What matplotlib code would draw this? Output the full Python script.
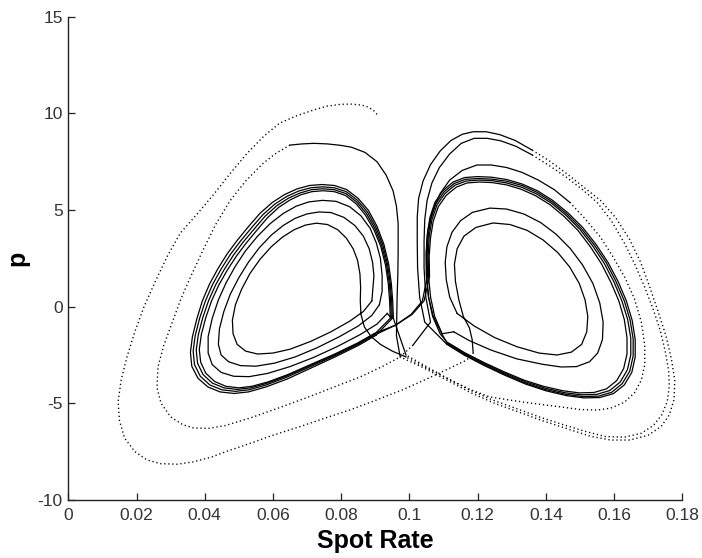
import matplotlib
matplotlib.use("Agg")
import matplotlib.pyplot as plt

plt.rcParams['font.family'] = ['Liberation Sans', 'DejaVu Sans']

# ---------------- data ----------------
x_ticks = [0, 0.02, 0.04, 0.06, 0.08, 0.1, 0.12, 0.14, 0.16, 0.18]
x_tick_labels = ['0', '0.02', '0.04', '0.06', '0.08', '0.1', '0.12', '0.14', '0.16', '0.18']
y_ticks = [-10, -5, 0, 5, 10, 15]
y_tick_labels = ['-10', '-5', '0', '5', '10', '15']

# left outer transient loop (dotted)
l1_x = [0.0905, 0.0895, 0.0880, 0.0860, 0.0830, 0.0800, 0.0760, 0.0720, 0.0670, 0.0620, 0.0575,
        0.0525, 0.0475, 0.0428, 0.0378, 0.0328, 0.0290, 0.0255, 0.0222, 0.0195, 0.0172, 0.0155,
        0.0146, 0.0150, 0.0165, 0.0195, 0.0231, 0.0270, 0.0320, 0.0366, 0.0420, 0.0470, 0.0533,
        0.0600, 0.0680, 0.0750, 0.0826, 0.0900, 0.0980, 0.1050, 0.1110, 0.1168, 0.1187]
l1_y = [9.95, 10.15, 10.32, 10.43, 10.48, 10.47, 10.38, 10.18, 9.88, 9.50, 8.85,
        7.95, 6.90, 5.85, 4.80, 3.80, 2.60, 1.30, 0.00, -1.30, -2.60, -3.80,
        -4.90, -5.90, -6.80, -7.50, -7.93, -8.12, -8.15, -8.03, -7.78, -7.45, -7.07,
        -6.65, -6.20, -5.78, -5.34, -4.85, -4.30, -3.75, -3.25, -2.76, -2.40]

# right innermost loop
r6_x = [0.1184, 0.1176, 0.1158, 0.1145, 0.1135, 0.1132, 0.1140, 0.1160, 0.1195, 0.1245, 0.1295,
        0.1345, 0.1392, 0.1435, 0.1470, 0.1498, 0.1515, 0.1523, 0.1520, 0.1505, 0.1475, 0.1433,
        0.1380, 0.1315, 0.1250, 0.1190, 0.1140]
r6_y = [-1.70, -1.10, -0.50, 0.35, 1.30, 2.20, 3.00, 3.65, 4.10, 4.33, 4.25,
        3.95, 3.45, 2.80, 2.05, 1.20, 0.35, -0.50, -1.30, -1.95, -2.35, -2.50,
        -2.40, -2.07, -1.60, -1.00, -0.35]

r5_x = [0.1118, 0.1108, 0.1105, 0.1110, 0.1125, 0.1150, 0.1185, 0.1236, 0.1285, 0.1335, 0.1385,
        0.1430, 0.1472, 0.1508, 0.1538, 0.1558, 0.1568, 0.1566, 0.1552, 0.1528, 0.1490, 0.1445,
        0.1390, 0.1315, 0.1240, 0.1175, 0.1130]
r5_y = [0.50, 1.40, 2.30, 3.10, 3.85, 4.45, 4.88, 5.10, 5.05, 4.80, 4.35,
        3.75, 3.00, 2.15, 1.20, 0.20, -0.80, -1.70, -2.40, -2.85, -3.10, -3.12,
        -2.98, -2.70, -2.25, -1.75, -1.30]

rb1_x = [0.1096, 0.1074, 0.1062, 0.1056, 0.1055, 0.1058, 0.1066, 0.1081, 0.1104, 0.1133, 0.1166,
         0.1203, 0.1242, 0.1285, 0.1329, 0.1372, 0.1416, 0.1459, 0.1500, 0.1538, 0.1571, 0.1600,
         0.1623, 0.1640, 0.1649, 0.1649, 0.1639, 0.1618, 0.1587, 0.1549, 0.1505, 0.1455, 0.1397,
         0.1339, 0.1281, 0.1222, 0.1163, 0.1114]
rb1_y = [-1.40, -0.50, 0.50, 1.58, 2.65, 3.63, 4.50, 5.27, 5.85, 6.28, 6.50,
         6.55, 6.52, 6.40, 6.18, 5.84, 5.36, 4.73, 4.00, 3.13, 2.25, 1.27,
         0.30, -0.67, -1.63, -2.50, -3.27, -3.90, -4.34, -4.54, -4.56, -4.45, -4.21,
         -3.88, -3.45, -2.97, -2.44, -1.91]

rb2_x = [0.1090, 0.1068, 0.1056, 0.1050, 0.1049, 0.1052, 0.1060, 0.1075, 0.1098, 0.1128, 0.1162,
         0.1200, 0.1240, 0.1285, 0.1330, 0.1375, 0.1420, 0.1465, 0.1508, 0.1548, 0.1582, 0.1612,
         0.1636, 0.1653, 0.1662, 0.1662, 0.1652, 0.1630, 0.1598, 0.1558, 0.1512, 0.1460, 0.1400,
         0.1340, 0.1280, 0.1220, 0.1160, 0.1110]
rb2_y = [-1.40, -0.50, 0.50, 1.60, 2.70, 3.70, 4.60, 5.40, 6.00, 6.45, 6.68,
         6.73, 6.70, 6.58, 6.35, 6.00, 5.50, 4.85, 4.10, 3.20, 2.30, 1.30,
         0.30, -0.70, -1.70, -2.60, -3.40, -4.05, -4.50, -4.70, -4.72, -4.60, -4.35,
         -4.00, -3.55, -3.05, -2.50, -1.95]

# right outer loop 1 (top solid, lower part dotted)
r1_top_x = [0.1045, 0.1030, 0.1024, 0.1023, 0.1023, 0.1027, 0.1040, 0.1062, 0.1090, 0.1122,
            0.1155, 0.1187, 0.1225, 0.1265, 0.1310, 0.1360]
r1_top_y = [-0.80, 0.50, 2.00, 3.40, 4.65, 5.60, 6.50, 7.35, 8.05, 8.60,
            8.92, 9.05, 9.05, 8.90, 8.60, 8.10]
r1_low_x = [0.1410, 0.1460, 0.1510, 0.1560, 0.1605, 0.1645, 0.1678, 0.1705, 0.1730, 0.1752,
            0.1768, 0.1778, 0.1776, 0.1762, 0.1738, 0.1700, 0.1646, 0.1590, 0.1530, 0.1460,
            0.1390, 0.1320, 0.1250, 0.1180, 0.1110, 0.1040, 0.0973]
r1_low_y = [7.55, 6.90, 6.20, 5.50, 4.60, 3.50, 2.30, 1.00, -0.30, -1.50,
            -2.70, -3.80, -4.80, -5.60, -6.20, -6.65, -6.90, -6.90, -6.70, -6.30,
            -5.90, -5.45, -5.00, -4.45, -3.80, -3.15, -2.60]

# left outer loop 2 (riser and top solid, outer part dotted)
l2_top_x = [0.0962, 0.0963, 0.0964, 0.0966, 0.0967, 0.0967, 0.0962, 0.0952, 0.0932, 0.0905,
            0.0870, 0.0830, 0.0797, 0.0760, 0.0720, 0.0685, 0.0650]
l2_top_y = [-1.50, -0.50, 0.50, 1.60, 2.80, 4.30, 5.20, 6.00, 6.80, 7.50,
            7.98, 8.25, 8.35, 8.42, 8.45, 8.42, 8.36]
l2_low_x = [0.0610, 0.0570, 0.0520, 0.0475, 0.0432, 0.0395, 0.0360, 0.0330, 0.0303, 0.0280,
            0.0263, 0.0260, 0.0272, 0.0300, 0.0335, 0.0366, 0.0410, 0.0460, 0.0533, 0.0615,
            0.0700, 0.0780, 0.0855, 0.0920, 0.0973, 0.1010]
l2_low_y = [7.95, 7.40, 6.50, 5.50, 4.25, 2.93, 1.60, 0.40, -0.90, -2.00,
            -3.10, -4.20, -5.00, -5.70, -6.10, -6.27, -6.30, -6.15, -5.76, -5.25,
            -4.70, -4.15, -3.64, -3.10, -2.60, -2.00]

# right outer loop 2
r2_top_x = [0.1062, 0.1048, 0.1043, 0.1043, 0.1045, 0.1052, 0.1066, 0.1088, 0.1118, 0.1152,
            0.1190, 0.1228, 0.1268, 0.1312, 0.1360]
r2_top_y = [-0.80, 0.50, 2.00, 3.40, 4.50, 5.50, 6.40, 7.20, 7.90, 8.45,
            8.71, 8.71, 8.58, 8.30, 7.85]
r2_low_x = [0.1410, 0.1460, 0.1508, 0.1550, 0.1592, 0.1630, 0.1662, 0.1690, 0.1714, 0.1735,
            0.1750, 0.1760, 0.1762, 0.1756, 0.1740, 0.1715, 0.1680, 0.1630, 0.1575, 0.1515,
            0.1450, 0.1380, 0.1310, 0.1240, 0.1170, 0.1100, 0.1040, 0.0990]
r2_low_y = [7.30, 6.70, 6.05, 5.40, 4.45, 3.30, 2.15, 1.00, -0.10, -1.20,
            -2.30, -3.30, -4.10, -4.90, -5.60, -6.15, -6.55, -6.75, -6.72, -6.45,
            -6.10, -5.70, -5.25, -4.80, -4.25, -3.60, -3.00, -2.50]

# left band loops
lb1_x = [0.0953, 0.0951, 0.0947, 0.0939, 0.0925, 0.0905, 0.0880, 0.0850, 0.0816, 0.0780, 0.0744,
         0.0707, 0.0670, 0.0634, 0.0598, 0.0562, 0.0529, 0.0496, 0.0466, 0.0439, 0.0414, 0.0393,
         0.0377, 0.0364, 0.0358, 0.0362, 0.0380, 0.0409, 0.0445, 0.0486, 0.0528, 0.0580, 0.0642,
         0.0712, 0.0782, 0.0852, 0.0902]
lb1_y = [-0.60, 0.30, 1.20, 2.22, 3.24, 4.16, 4.98, 5.60, 6.06, 6.27, 6.32,
         6.27, 6.09, 5.80, 5.39, 4.83, 4.16, 3.45, 2.74, 1.98, 1.17, 0.30,
         -0.62, -1.54, -2.36, -3.08, -3.70, -4.15, -4.41, -4.49, -4.41, -4.15, -3.74,
         -3.17, -2.60, -1.99, -1.48]

lb2_x = [0.0950, 0.0948, 0.0944, 0.0936, 0.0922, 0.0902, 0.0877, 0.0848, 0.0815, 0.0780, 0.0745,
         0.0710, 0.0675, 0.0640, 0.0605, 0.0570, 0.0538, 0.0505, 0.0475, 0.0448, 0.0423, 0.0402,
         0.0385, 0.0372, 0.0366, 0.0370, 0.0387, 0.0415, 0.0450, 0.0490, 0.0530, 0.0580, 0.0640,
         0.0710, 0.0780, 0.0850, 0.0900]
lb2_y = [-0.60, 0.30, 1.20, 2.20, 3.20, 4.10, 4.90, 5.50, 5.95, 6.15, 6.20,
         6.15, 5.98, 5.70, 5.30, 4.75, 4.10, 3.40, 2.70, 1.95, 1.15, 0.30,
         -0.60, -1.50, -2.30, -3.00, -3.60, -4.05, -4.30, -4.38, -4.30, -4.05, -3.65,
         -3.10, -2.55, -1.95, -1.45]

lb3_x = [0.0947, 0.0945, 0.0941, 0.0933, 0.0919, 0.0899, 0.0874, 0.0846, 0.0814, 0.0780, 0.0746,
         0.0712, 0.0679, 0.0645, 0.0611, 0.0577, 0.0546, 0.0513, 0.0484, 0.0457, 0.0432, 0.0411,
         0.0394, 0.0381, 0.0375, 0.0379, 0.0395, 0.0422, 0.0456, 0.0495, 0.0534, 0.0583, 0.0642,
         0.0711, 0.0780, 0.0849, 0.0898]
lb3_y = [-0.60, 0.30, 1.20, 2.18, 3.16, 4.04, 4.82, 5.41, 5.85, 6.05, 6.10,
         6.05, 5.88, 5.61, 5.22, 4.68, 4.04, 3.35, 2.66, 1.92, 1.13, 0.30,
         -0.58, -1.47, -2.25, -2.93, -3.51, -3.95, -4.20, -4.28, -4.20, -3.96, -3.57,
         -3.03, -2.50, -1.91, -1.42]

lb4_x = [0.0944, 0.0942, 0.0938, 0.0930, 0.0916, 0.0896, 0.0871, 0.0844, 0.0813, 0.0780, 0.0747,
         0.0714, 0.0682, 0.0650, 0.0617, 0.0584, 0.0554, 0.0522, 0.0493, 0.0466, 0.0441, 0.0420,
         0.0403, 0.0390, 0.0384, 0.0388, 0.0403, 0.0429, 0.0462, 0.0500, 0.0538, 0.0586, 0.0644,
         0.0712, 0.0780, 0.0848, 0.0896]
lb4_y = [-0.60, 0.30, 1.20, 2.15, 3.12, 3.98, 4.74, 5.32, 5.75, 5.95, 6.00,
         5.95, 5.79, 5.52, 5.14, 4.60, 3.98, 3.30, 2.62, 1.89, 1.11, 0.30,
         -0.57, -1.44, -2.21, -2.87, -3.44, -3.87, -4.12, -4.20, -4.12, -3.89, -3.51,
         -2.98, -2.46, -1.88, -1.40]

# right band loops entered from the left lobe
rb3_x = [0.0960, 0.1005, 0.1038, 0.1053, 0.1052, 0.1055, 0.1063, 0.1078, 0.1101, 0.1131, 0.1164,
         0.1202, 0.1241, 0.1285, 0.1330, 0.1374, 0.1418, 0.1462, 0.1504, 0.1543, 0.1577, 0.1606,
         0.1630, 0.1647, 0.1656, 0.1656, 0.1646, 0.1624, 0.1593, 0.1554, 0.1509, 0.1458, 0.1399,
         0.1340, 0.1281, 0.1221, 0.1162, 0.1112]
rb3_y = [-0.95, -0.40, 0.30, 1.59, 2.68, 3.67, 4.55, 5.34, 5.93, 6.37, 6.59,
         6.63, 6.60, 6.49, 6.27, 5.92, 5.43, 4.79, 4.05, 3.17, 2.28, 1.29,
         0.30, -0.69, -1.67, -2.55, -3.34, -3.98, -4.43, -4.63, -4.65, -4.53, -4.29,
         -3.95, -3.51, -3.02, -2.48, -1.94]

rb4_x = [0.0960, 0.1008, 0.1043, 0.1059, 0.1058, 0.1062, 0.1070, 0.1085, 0.1108, 0.1137, 0.1169,
         0.1205, 0.1243, 0.1285, 0.1327, 0.1369, 0.1412, 0.1454, 0.1494, 0.1531, 0.1563, 0.1591,
         0.1614, 0.1630, 0.1638, 0.1638, 0.1628, 0.1608, 0.1578, 0.1541, 0.1498, 0.1450, 0.1393,
         0.1336, 0.1279, 0.1221, 0.1163, 0.1115]
rb4_y = [-0.95, -0.40, 0.30, 1.56, 2.62, 3.58, 4.43, 5.18, 5.76, 6.18, 6.40,
         6.45, 6.42, 6.30, 6.08, 5.75, 5.28, 4.66, 3.95, 3.09, 2.22, 1.25,
         0.30, -0.66, -1.60, -2.45, -3.21, -3.82, -4.25, -4.44, -4.46, -4.35, -4.12,
         -3.80, -3.38, -2.91, -2.39, -1.88]

# right loop 3 (top solid, lower part dotted)
r3_top_x = [0.1095, 0.1070, 0.1056, 0.1050, 0.1050, 0.1055, 0.1068, 0.1090, 0.1118, 0.1155,
            0.1198, 0.1240, 0.1285, 0.1330, 0.1378, 0.1425, 0.1470]
r3_top_y = [-1.40, -0.50, 0.50, 1.70, 2.90, 4.00, 5.00, 5.85, 6.55, 7.05,
            7.33, 7.33, 7.20, 6.95, 6.55, 6.05, 5.40]
r3_low_x = [0.1515, 0.1560, 0.1598, 0.1632, 0.1660, 0.1680, 0.1690, 0.1690, 0.1680, 0.1660,
            0.1630, 0.1590, 0.1550, 0.1500, 0.1450, 0.1395, 0.1340, 0.1290, 0.1236, 0.1180,
            0.1120, 0.1060, 0.1020, 0.0990]
r3_low_y = [4.55, 3.60, 2.55, 1.50, 0.40, -0.80, -2.00, -3.00, -3.80, -4.45,
            -4.95, -5.25, -5.35, -5.32, -5.20, -5.08, -4.95, -4.82, -4.67, -4.30,
            -3.80, -3.25, -2.90, -2.60]

# left inner loops
l43_x = [0.0950, 0.0915, 0.0888, 0.0868, 0.0858, 0.0856, 0.0857, 0.0855, 0.0848, 0.0835, 0.0815,
         0.0790, 0.0760, 0.0727, 0.0695, 0.0662, 0.0628, 0.0595, 0.0562, 0.0532, 0.0508, 0.0490,
         0.0481, 0.0483, 0.0495, 0.0520, 0.0555, 0.0600, 0.0650, 0.0710, 0.0770, 0.0825, 0.0865,
         0.0890]
l43_y = [-2.30, -1.95, -1.55, -1.05, -0.40, 0.30, 1.00, 1.70, 2.40, 3.00, 3.55,
         3.98, 4.25, 4.32, 4.22, 3.98, 3.60, 3.10, 2.45, 1.70, 0.90, 0.10,
         -0.70, -1.40, -1.95, -2.30, -2.45, -2.40, -2.20, -1.80, -1.30, -0.75, -0.25,
         0.30]

l49_x = [0.0896, 0.0892, 0.0882, 0.0865, 0.0840, 0.0808, 0.0770, 0.0735, 0.0700, 0.0665, 0.0630,
         0.0595, 0.0560, 0.0528, 0.0500, 0.0475, 0.0456, 0.0443, 0.0440, 0.0448, 0.0470, 0.0505,
         0.0550, 0.0605, 0.0665, 0.0730, 0.0795, 0.0850, 0.0890, 0.0912]
l49_y = [1.60, 2.30, 3.00, 3.65, 4.20, 4.62, 4.87, 4.90, 4.80, 4.57, 4.20,
         3.70, 3.05, 2.30, 1.50, 0.65, -0.25, -1.15, -1.95, -2.50, -2.85, -3.05,
         -3.08, -2.92, -2.60, -2.12, -1.55, -1.00, -0.45, 0.10]

l55_x = [0.0920, 0.0920, 0.0915, 0.0903, 0.0885, 0.0858, 0.0825, 0.0785, 0.0745, 0.0705, 0.0668,
         0.0630, 0.0592, 0.0555, 0.0520, 0.0490, 0.0463, 0.0440, 0.0422, 0.0410, 0.0410, 0.0422,
         0.0448, 0.0485, 0.0530, 0.0585, 0.0650, 0.0720, 0.0790, 0.0855, 0.0905, 0.0935]
l55_y = [0.80, 1.60, 2.50, 3.30, 4.05, 4.70, 5.17, 5.45, 5.50, 5.42, 5.20,
         4.82, 4.30, 3.65, 2.90, 2.10, 1.25, 0.35, -0.60, -1.55, -2.40, -3.00,
         -3.40, -3.60, -3.62, -3.45, -3.10, -2.62, -2.05, -1.45, -0.90, -0.35]

# order in which the trajectory passes the pieces, and whether each piece is dotted
sequence = [
    (l1_x, l1_y, True),
    (r6_x, r6_y, False),
    (r5_x, r5_y, False),
    (rb1_x, rb1_y, False),
    (rb2_x, rb2_y, False),
    (r1_top_x, r1_top_y, False),
    (r1_low_x, r1_low_y, True),
    (l2_top_x, l2_top_y, False),
    (l2_low_x, l2_low_y, True),
    (r2_top_x, r2_top_y, False),
    (r2_low_x, r2_low_y, True),
    (lb1_x, lb1_y, False),
    (lb2_x, lb2_y, False),
    (rb3_x, rb3_y, False),
    (r3_top_x, r3_top_y, False),
    (r3_low_x, r3_low_y, True),
    (l43_x, l43_y, False),
    (l49_x, l49_y, False),
    (l55_x, l55_y, False),
    (lb3_x, lb3_y, False),
    (lb4_x, lb4_y, False),
    (rb4_x, rb4_y, False),
]

# ---------------- figure ----------------
fig = plt.figure(figsize=(7.02, 5.58), dpi=100)
ax = fig.add_axes([0.0973, 0.104, 0.8746, 0.866])

prev = None
for xs, ys, dotted in sequence:
    px = list(xs)
    py = list(ys)
    if prev is not None:
        px = [prev[0]] + px
        py = [prev[1]] + py
    if dotted:
        ax.plot(px, py, color='black', lw=1.0, linestyle=(0, (0.9, 2.0)))
    else:
        ax.plot(px, py, color='black', lw=0.9, solid_joinstyle='round')
    prev = (xs[-1], ys[-1])

ax.set_xlim(0, 0.18)
ax.set_ylim(-10, 15)
ax.set_xticks(x_ticks)
ax.set_xticklabels(x_tick_labels)
ax.set_yticks(y_ticks)
ax.set_yticklabels(y_tick_labels)

for side in ['top', 'right']:
    ax.spines[side].set_visible(False)
for side in ['left', 'bottom']:
    ax.spines[side].set_linewidth(1.0)
    ax.spines[side].set_color('#222222')

ax.tick_params(axis='both', direction='in', length=5, width=0.9, colors='#222222',
               labelsize=12.5, labelcolor='#333333')
ax.tick_params(axis='x', pad=6)
ax.tick_params(axis='y', pad=4)

ax.set_xlabel('Spot Rate', fontsize=18, fontweight='bold', labelpad=4)
ax.set_ylabel('p', fontsize=18, fontweight='bold', labelpad=6)

fig.savefig('out.png', dpi=100, facecolor='white')
